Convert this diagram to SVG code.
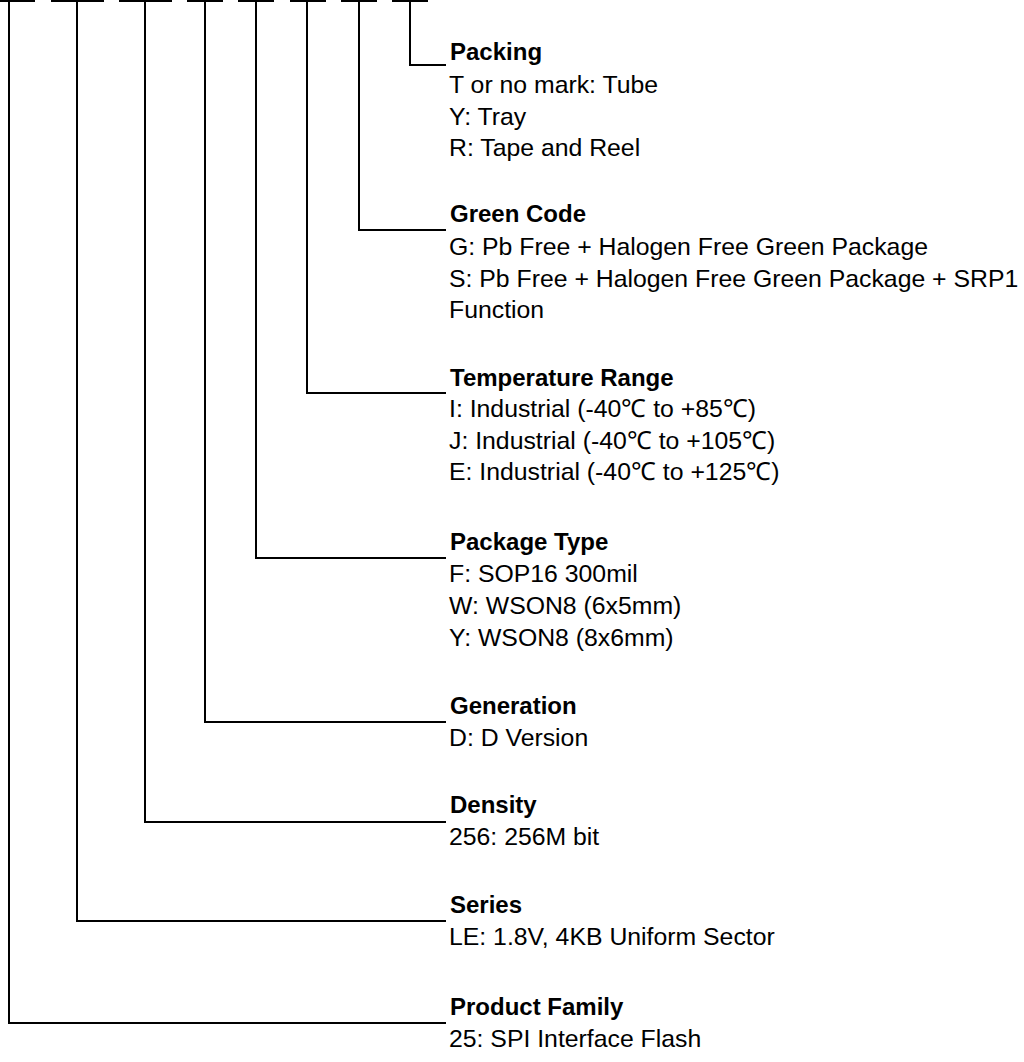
<svg xmlns="http://www.w3.org/2000/svg" width="1024" height="1062" viewBox="0 0 1024 1062">
<style>
.ln{fill:none;stroke:#000;stroke-width:2}
.dash{stroke:#000;stroke-width:2}
.t{font-family:"Liberation Sans",Arial,sans-serif;font-size:24.8px;fill:#000}
.h{font-family:"Liberation Sans",Arial,sans-serif;font-size:24px;font-weight:bold;fill:#000}
</style>
<rect width="1024" height="1062" fill="#fff"/>
<g id="connectors">
<g id="dashes">
<line class="dash" x1="0" y1="1" x2="35" y2="1"/>
<line class="dash" x1="51" y1="1" x2="104" y2="1"/>
<line class="dash" x1="119" y1="1" x2="172" y2="1"/>
<line class="dash" x1="187" y1="1" x2="223" y2="1"/>
<line class="dash" x1="238" y1="1" x2="274" y2="1"/>
<line class="dash" x1="290" y1="1" x2="326" y2="1"/>
<line class="dash" x1="341" y1="1" x2="377" y2="1"/>
<line class="dash" x1="392" y1="1" x2="428" y2="1"/>
</g>
<path class="ln" d="M410 0V65H446"/>
<path class="ln" d="M359 0V230H446"/>
<path class="ln" d="M307 0V393H446"/>
<path class="ln" d="M256 0V558H446"/>
<path class="ln" d="M205 0V722H446"/>
<path class="ln" d="M145 0V822H446"/>
<path class="ln" d="M77 0V921H446"/>
<path class="ln" d="M9 0V1023H446"/>
</g>
<g id="packing">
<text class="h" x="450" y="60">Packing</text>
<text class="t" x="449" y="93">T or no mark: Tube</text>
<text class="t" x="449" y="125">Y: Tray</text>
<text class="t" x="449" y="156">R: Tape and Reel</text>
</g>
<g id="green-code">
<text class="h" x="450" y="222">Green Code</text>
<text class="t" x="449" y="255">G: Pb Free + Halogen Free Green Package</text>
<text class="t" x="449" y="287">S: Pb Free + Halogen Free Green Package + SRP1</text>
<text class="t" x="449" y="318">Function</text>
</g>
<g id="temperature-range">
<text class="h" x="450" y="386">Temperature Range</text>
<text class="t" x="449" y="417">I: Industrial (-40℃ to +85℃)</text>
<text class="t" x="449" y="449">J: Industrial (-40℃ to +105℃)</text>
<text class="t" x="449" y="480">E: Industrial (-40℃ to +125℃)</text>
</g>
<g id="package-type">
<text class="h" x="450" y="550">Package Type</text>
<text class="t" x="449" y="582">F: SOP16 300mil</text>
<text class="t" x="449" y="614">W: WSON8 (6x5mm)</text>
<text class="t" x="449" y="646">Y: WSON8 (8x6mm)</text>
</g>
<g id="generation">
<text class="h" x="450" y="714">Generation</text>
<text class="t" x="449" y="746">D: D Version</text>
</g>
<g id="density">
<text class="h" x="450" y="813">Density</text>
<text class="t" x="449" y="845">256: 256M bit</text>
</g>
<g id="series">
<text class="h" x="450" y="913">Series</text>
<text class="t" x="449" y="945">LE: 1.8V, 4KB Uniform Sector</text>
</g>
<g id="product-family">
<text class="h" x="450" y="1015">Product Family</text>
<text class="t" x="449" y="1047">25: SPI Interface Flash</text>
</g>
</svg>
